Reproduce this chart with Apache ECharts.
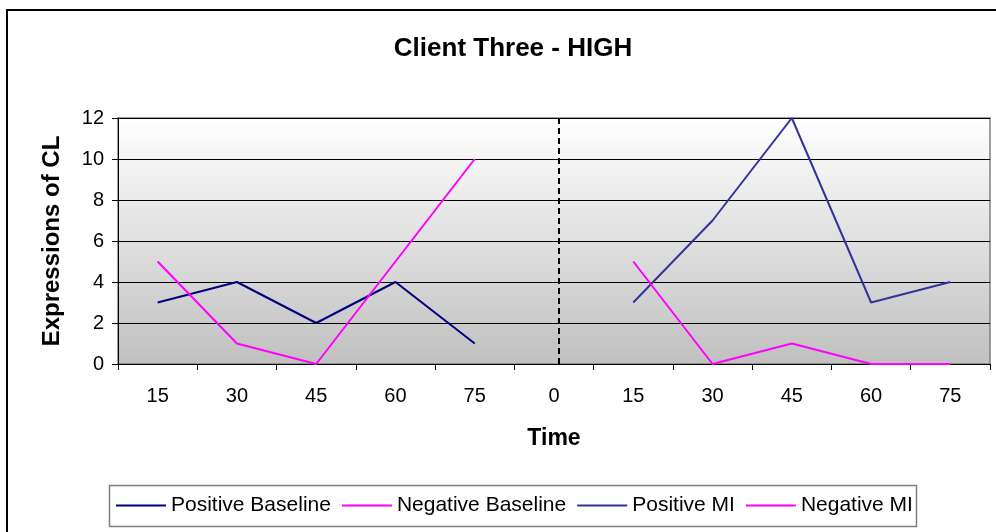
<!DOCTYPE html>
<html>
<head>
<meta charset="utf-8">
<script src="https://cdn.jsdelivr.net/npm/echarts@6/dist/echarts.min.js"></script>
<style>
html,body{margin:0;padding:0;background:#fff;}
#chart{width:996px;height:532px;}
</style>
</head>
<body>
<div id="chart"></div>
<script>
var categories = ['15','30','45','60','75','0','15','30','45','60','75'];
var positiveBaseline = [3, 4, 2, 4, 1, null, null, null, null, null, null];
var negativeBaseline = [5, 1, 0, 5, 10, null, null, null, null, null, null];
var positiveMI = [null, null, null, null, null, null, 3, 7, 12, 3, 4];
var negativeMI = [null, null, null, null, null, null, 5, 0, 1, 0, 0];
var yTicks = [0, 2, 4, 6, 8, 10, 12];
var dividerPosition = 5.56;

var chart = echarts.init(document.getElementById('chart'), null, {renderer: 'canvas'});
var FONT = 'Liberation Sans, Arial, sans-serif';

function lineSeries(name, data, color) {
  return {
    name: name, type: 'line', data: data, showSymbol: false, symbol: 'none',
    connectNulls: false, animation: false,
    lineStyle: {color: color, width: 2}, itemStyle: {color: color}
  };
}

var option = {
  animation: false,
  title: {
    text: 'Client Three - HIGH',
    left: 508, top: 31, textAlign: 'center',
    textStyle: {fontFamily: FONT, fontSize: 26, fontWeight: 'bold', color: '#000'}
  },
  graphic: [
    {type: 'rect', shape: {x: 7, y: 10, width: 1000, height: 540},
     style: {fill: 'none', stroke: '#000', lineWidth: 2}, z: -10},
    {type: 'rect', shape: {x: 109.5, y: 485.5, width: 807, height: 41},
     style: {fill: '#fff', stroke: '#808080', lineWidth: 1.5}, z: -5}
  ],
  legend: {
    left: 116, top: 495,
    itemWidth: 50, itemHeight: 2, itemGap: 11, icon: 'rect',
    padding: 0,
    textStyle: {fontFamily: FONT, fontSize: 21, color: '#000'},
    data: ['Positive Baseline', 'Negative Baseline', 'Positive MI', 'Negative MI']
  },
  grid: {
    left: 118, right: 6, top: 118, bottom: 168,
    show: true,
    borderColor: '#808080', borderWidth: 1.5,
    backgroundColor: new echarts.graphic.LinearGradient(0, 0, 0, 1, [
      {offset: 0, color: '#ffffff'},
      {offset: 1, color: '#c0c0c0'}
    ])
  },
  xAxis: [{
    type: 'category', data: categories, boundaryGap: true,
    name: 'Time', nameLocation: 'middle', nameGap: 63,
    nameTextStyle: {fontFamily: FONT, fontSize: 23, fontWeight: 'bold', color: '#000'},
    axisLine: {lineStyle: {color: '#000', width: 1}},
    axisTick: {show: true, inside: false, length: 6, interval: 0, lineStyle: {color: '#000'}},
    axisLabel: {fontFamily: FONT, fontSize: 20, color: '#000', margin: 22, interval: 0},
    splitLine: {show: false}
  }, {
    type: 'value', min: 0, max: 11, show: false
  }],
  yAxis: {
    type: 'value', min: 0, max: 12, interval: 2,
    name: 'Expressions of CL', nameLocation: 'middle', nameGap: 54, nameRotate: 90,
    nameTextStyle: {fontFamily: FONT, fontSize: 24, fontWeight: 'bold', color: '#000'},
    axisLine: {show: true, lineStyle: {color: '#000', width: 1}},
    axisTick: {show: true, inside: false, length: 6, lineStyle: {color: '#000'}},
    axisLabel: {fontFamily: FONT, fontSize: 20, color: '#000', margin: 14,
      formatter: function (v) { return yTicks.indexOf(v) >= 0 ? String(v) : ''; }},
    splitLine: {show: true, lineStyle: {color: '#000', width: 1}}
  },
  series: [
    lineSeries('Positive Baseline', positiveBaseline, '#000080'),
    lineSeries('Negative Baseline', negativeBaseline, '#FF00FF'),
    lineSeries('Positive MI', positiveMI, '#333399'),
    lineSeries('Negative MI', negativeMI, '#FF00FF'),
    {
      name: 'divider', type: 'line', xAxisIndex: 1, data: [], silent: true,
      markLine: {
        symbol: ['none', 'none'], silent: true, label: {show: false},
        lineStyle: {color: '#000', width: 2, type: [6, 4]},
        data: [{xAxis: dividerPosition}]
      }
    }
  ]
};
chart.setOption(option);
</script>
</body>
</html>
